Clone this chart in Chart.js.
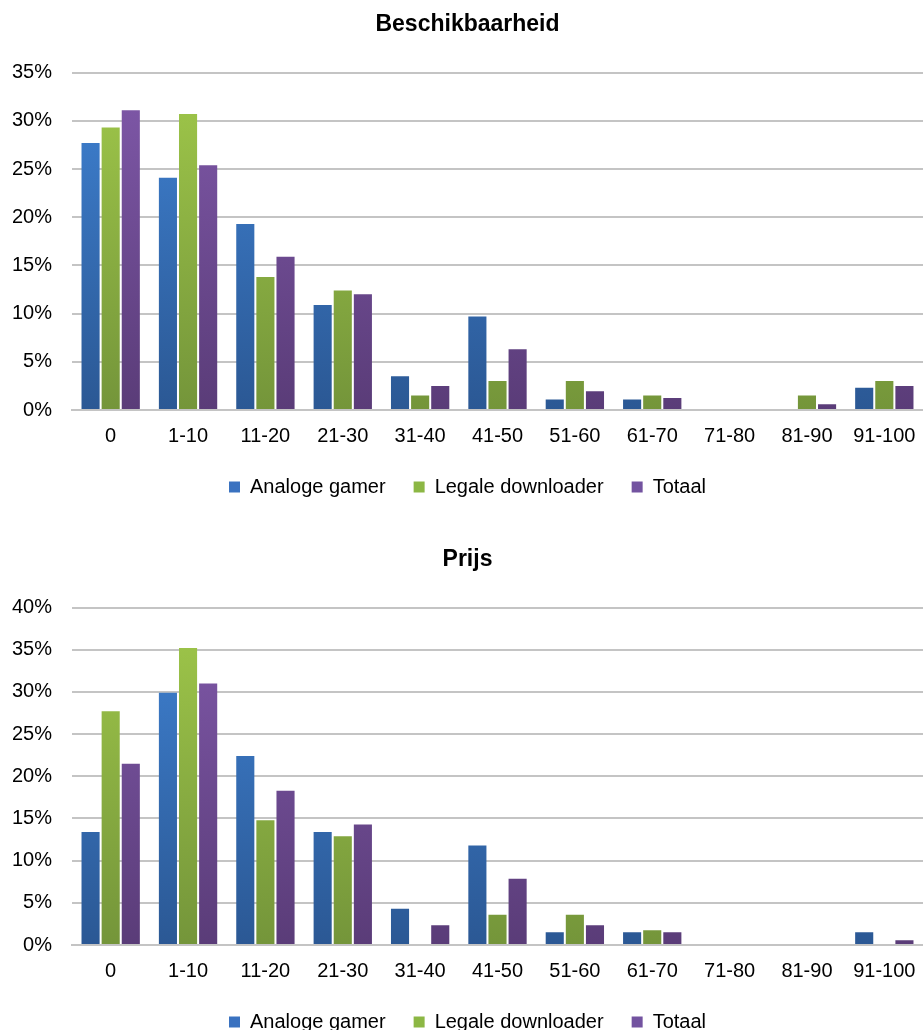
<!DOCTYPE html>
<html>
<head>
<meta charset="utf-8">
<script src="https://cdn.jsdelivr.net/npm/chart.js@4"></script>
<style>
  html, body { margin: 0; background: #fff; overflow: hidden; height: 1030px; }
  .box { position: absolute; left: 0; width: 923px; }
</style>
</head>
<body>
<div class="box" style="top:0px;height:512px"><canvas id="chart1"></canvas></div>
<div class="box" style="top:535px;height:512px"><canvas id="chart2"></canvas></div>
<script>
const categories = ["0", "1-10", "11-20", "21-30", "31-40", "41-50", "51-60", "61-70", "71-80", "81-90", "91-100"];
const seriesNames = ["Analoge gamer", "Legale downloader", "Totaal"];

// Beschikbaarheid
const beschikAnaloog = [27.7, 24.1, 19.3, 10.9, 3.5, 9.7, 1.1, 1.1, 0, 0, 2.3];
const beschikLegaal = [29.3, 30.7, 13.8, 12.4, 1.5, 3.0, 3.0, 1.5, 0, 1.5, 3.0];
const beschikTotaal = [31.1, 25.4, 15.9, 12.0, 2.5, 6.3, 1.95, 1.25, 0, 0.6, 2.5];

// Prijs
const prijsAnaloog = [13.4, 29.9, 22.4, 13.4, 4.3, 11.8, 1.5, 1.5, 0, 0, 1.5];
const prijsLegaal = [27.7, 35.2, 14.8, 12.9, 0, 3.6, 3.6, 1.75, 0, 0, 0];
const prijsTotaal = [21.5, 31.0, 18.3, 14.3, 2.35, 7.85, 2.35, 1.5, 0, 0, 0.56];

const FONT = "'Liberation Sans', Arial, sans-serif";
const colorsTop = ["#3f82d3", "#a0c84a", "#8059aa"];
const colorsBottom = ["#2b5894", "#74953a", "#5a3c78"];
const legendColors = ["#3a72c0", "#8cb744", "#7353a0"];

function gradient(i) {
  return function (ctx) {
    const chart = ctx.chart;
    const area = chart.chartArea;
    if (!area) return colorsTop[i];
    const g = chart.ctx.createLinearGradient(0, area.top, 0, area.bottom);
    g.addColorStop(0, colorsTop[i]);
    g.addColorStop(1, colorsBottom[i]);
    return g;
  };
}

// move the legend a bit closer to the axis labels
const legendUp = {
  id: "legendUp",
  afterUpdate(chart) {
    chart.legend.top -= 5;
    chart.legend.bottom -= 5;
  },
};

function makeChart(id, title, values, maxY) {
  new Chart(document.getElementById(id), {
    type: "bar",
    data: {
      labels: categories,
      datasets: values.map((v, i) => ({
        label: seriesNames[i],
        data: v,
        backgroundColor: gradient(i),
        borderWidth: 0,
        categoryPercentage: 0.78,
        barPercentage: 0.9,
      })),
    },
    plugins: [legendUp],
    options: {
      responsive: true,
      maintainAspectRatio: false,
      animation: false,
      layout: { padding: { left: 12, right: 0, top: 0, bottom: 0 } },
      plugins: {
        title: {
          display: true,
          text: title,
          color: "#000",
          font: { family: FONT, size: 23, weight: "bold" },
          padding: { top: 11, bottom: 34 },
        },
        legend: {
          position: "bottom",
          labels: {
            color: "#000",
            font: { family: FONT, size: 20 },
            boxWidth: 11,
            boxHeight: 11,
            padding: 28,
            generateLabels: (chart) =>
              seriesNames.map((n, i) => ({
                text: n,
                fillStyle: legendColors[i],
                strokeStyle: legendColors[i],
                lineWidth: 0,
                datasetIndex: i,
              })),
          },
        },
        tooltip: { enabled: false },
      },
      scales: {
        x: {
          grid: { display: false, drawTicks: true, tickLength: 8 },
          border: { color: "#c4c4c4", width: 2 },
          ticks: {
            color: "#000",
            font: { family: FONT, size: 20 },
            padding: 6,
            maxRotation: 0,
          },
        },
        y: {
          min: 0,
          max: maxY,
          grid: { color: "#c4c4c4", lineWidth: 2, drawTicks: false },
          border: { display: false },
          ticks: {
            stepSize: 5,
            color: "#000",
            font: { family: FONT, size: 20 },
            padding: 20,
            callback: (v) => v + "%",
          },
          afterFit: (scale) => { scale.width = 60; },
        },
      },
    },
  });
}

makeChart("chart1", "Beschikbaarheid", [beschikAnaloog, beschikLegaal, beschikTotaal], 35);
makeChart("chart2", "Prijs", [prijsAnaloog, prijsLegaal, prijsTotaal], 40);
</script>
</body>
</html>
